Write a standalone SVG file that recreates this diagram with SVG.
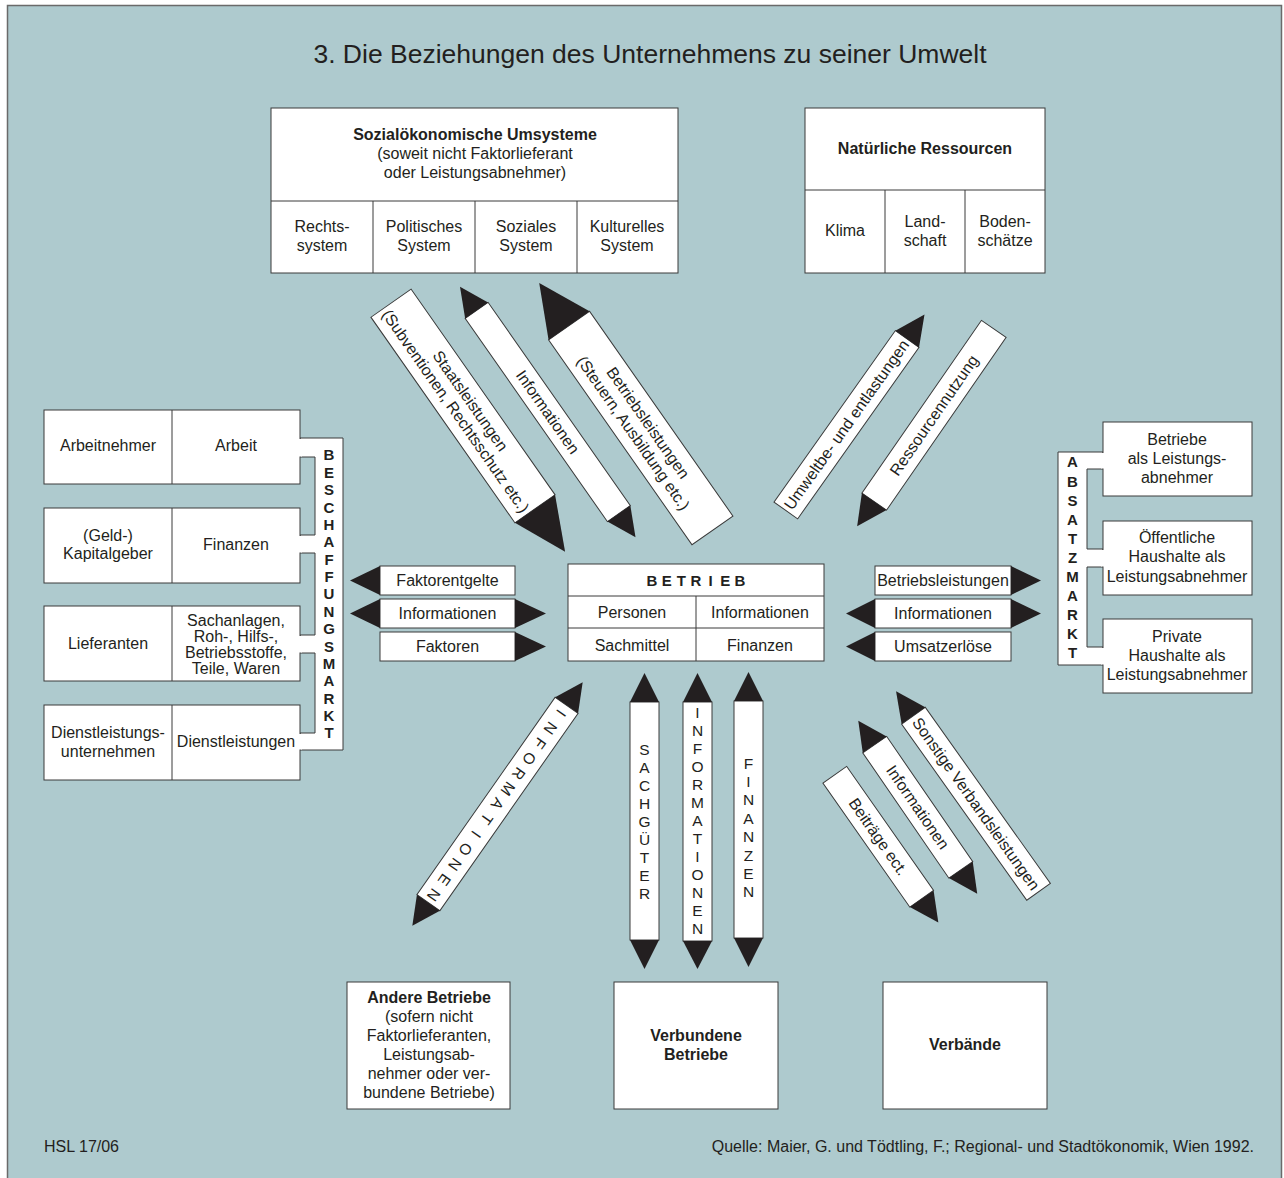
<svg xmlns="http://www.w3.org/2000/svg" width="1284" height="1178" viewBox="0 0 1284 1178">
<style>
text{font-family:"Liberation Sans",Arial,Helvetica,sans-serif;fill:#231f20}
.t{font-size:16px;text-anchor:middle}
.b{font-weight:bold}
.l{font-size:15.5px;text-anchor:middle}
.box{fill:#fff;stroke:#3a3a3a;stroke-width:1}
.ln{stroke:#3a3a3a;stroke-width:1;fill:none}
.hd{fill:#231f20}
</style>
<rect x="0" y="0" width="1284" height="1178" fill="#fff"/>
<rect x="7.5" y="5.5" width="1274" height="1180" fill="#aecace" stroke="#6a6a6a" stroke-width="1.5"/>
<text x="650" y="63" style="font-size:26.5px;text-anchor:middle">3. Die Beziehungen des Unternehmens zu seiner Umwelt</text>

<g id="sozial">
<rect class="box" x="271" y="108" width="407" height="165"/>
<path class="ln" d="M271,201H678M373,201V273M475,201V273M577,201V273"/>
<text class="t b" x="475" y="139.5">Sozialökonomische Umsysteme</text>
<text class="t" x="475" y="158.5">(soweit nicht Faktorlieferant</text>
<text class="t" x="475" y="177.5">oder Leistungsabnehmer)</text>
<text class="t" x="322" y="231.5">Rechts-</text><text class="t" x="322" y="250.5">system</text>
<text class="t" x="424" y="231.5">Politisches</text><text class="t" x="424" y="250.5">System</text>
<text class="t" x="526" y="231.5">Soziales</text><text class="t" x="526" y="250.5">System</text>
<text class="t" x="627" y="231.5">Kulturelles</text><text class="t" x="627" y="250.5">System</text>
</g>

<g id="natur">
<rect class="box" x="805" y="108" width="240" height="165"/>
<path class="ln" d="M805,190H1045M885,190V273M965,190V273"/>
<text class="t b" x="925" y="153.5">Natürliche Ressourcen</text>
<text class="t" x="845" y="235.5">Klima</text>
<text class="t" x="925" y="226.5">Land-</text><text class="t" x="925" y="245.5">schaft</text>
<text class="t" x="1005" y="226.5">Boden-</text><text class="t" x="1005" y="245.5">schätze</text>
</g>

<g id="beschaffungsmarkt">
<path class="box" d="M300,438H343V750H300V733H315V653H300V635H315V553H300V535H315V457H300Z"/>
<text class="b" style="font-size:15px;text-anchor:middle" x="329 329 329 329 329 329 329 329 329 329 329 329 329 329 329 329 329" y="460.4 477.8 495.2 512.5 529.9 547.3 564.7 582 599.4 616.8 634.2 651.5 668.9 686.3 703.7 721 738.4">BESCHAFFUNGSMARKT</text>
</g>

<g id="arbeit">
<rect class="box" x="44" y="410" width="256" height="74"/><path class="ln" d="M172,410V484"/>
<text class="t" x="108" y="450.5">Arbeitnehmer</text><text class="t" x="236" y="450.5">Arbeit</text>
</g>
<g id="finanzen">
<rect class="box" x="44" y="508" width="256" height="75"/><path class="ln" d="M172,508V583"/>
<text class="t" x="108" y="540.5">(Geld-)</text><text class="t" x="108" y="558.5">Kapitalgeber</text>
<text class="t" x="236" y="549.5">Finanzen</text>
</g>
<g id="lieferanten">
<rect class="box" x="44" y="606" width="256" height="75"/><path class="ln" d="M172,606V681"/>
<text class="t" x="108" y="648.5">Lieferanten</text>
<text class="t" x="236" y="625.5">Sachanlagen,</text><text class="t" x="236" y="641.5">Roh-, Hilfs-,</text>
<text class="t" x="236" y="657.5">Betriebsstoffe,</text><text class="t" x="236" y="673.5">Teile, Waren</text>
</g>
<g id="dienstleistungen">
<rect class="box" x="44" y="705" width="256" height="75"/><path class="ln" d="M172,705V780"/>
<text class="t" x="108" y="737.5">Dienstleistungs-</text><text class="t" x="108" y="756.5">unternehmen</text>
<text class="t" x="236" y="746.5">Dienstleistungen</text>
</g>
<g fill="#fff">
<rect x="299" y="439" width="3" height="17.5"/><rect x="299" y="536" width="3" height="16.5"/>
<rect x="299" y="636" width="3" height="16.5"/><rect x="299" y="734" width="3" height="15.5"/>
</g>

<g id="absatzmarkt">
<path class="box" d="M1103,452H1058V665H1103V647H1087V567H1103V549H1087V469H1103Z"/>
<text class="b" style="font-size:15px;text-anchor:middle" x="1072.5 1072.5 1072.5 1072.5 1072.5 1072.5 1072.5 1072.5 1072.5 1072.5 1072.5" y="467.4 486.5 505.6 524.7 543.8 562.9 582 601.1 620.2 639.3 658.4">ABSATZMARKT</text>
</g>
<g id="betriebe-abnehmer">
<rect class="box" x="1103" y="422" width="149" height="74"/>
<text class="t" x="1177" y="444.5">Betriebe</text><text class="t" x="1177" y="463.5">als Leistungs-</text><text class="t" x="1177" y="482.5">abnehmer</text>
</g>
<g id="oeffentliche">
<rect class="box" x="1103" y="521" width="149" height="74"/>
<text class="t" x="1177" y="542.5">Öffentliche</text><text class="t" x="1177" y="561.5">Haushalte als</text><text class="t" x="1177" y="581.5">Leistungsabnehmer</text>
</g>
<g id="private">
<rect class="box" x="1103" y="619" width="149" height="74"/>
<text class="t" x="1177" y="641.5">Private</text><text class="t" x="1177" y="660.5">Haushalte als</text><text class="t" x="1177" y="679.5">Leistungsabnehmer</text>
</g>
<g fill="#fff">
<rect x="1101" y="453" width="3" height="15.5"/><rect x="1101" y="550" width="3" height="16.5"/><rect x="1101" y="648" width="3" height="16.5"/>
</g>

<g id="betrieb">
<rect class="box" x="568" y="564" width="256" height="97"/>
<path class="ln" d="M568,596H824M568,628H824M696,596V661"/>
<text class="b" style="font-size:15px;text-anchor:middle" x="652 666.7 681.3 696 710.7 725.3 740" y="585.5">BETRIEB</text>
<text class="t" x="632" y="617.5">Personen</text><text class="t" x="760" y="617.5">Informationen</text>
<text class="t" x="632" y="650.5">Sachmittel</text><text class="t" x="760" y="650.5">Finanzen</text>
</g>

<g id="andere-betriebe">
<rect class="box" x="347" y="982" width="163" height="127"/>
<text class="t b" x="429" y="1002.5">Andere Betriebe</text>
<text class="t" x="429" y="1021.5">(sofern nicht</text>
<text class="t" x="429" y="1040.5">Faktorlieferanten,</text>
<text class="t" x="429" y="1059.5">Leistungsab-</text>
<text class="t" x="429" y="1078.5">nehmer oder ver-</text>
<text class="t" x="429" y="1097.5">bundene Betriebe)</text>
</g>
<g id="verbundene">
<rect class="box" x="614" y="982" width="164" height="127"/>
<text class="t b" x="696" y="1040.5">Verbundene</text><text class="t b" x="696" y="1059.5">Betriebe</text>
</g>
<g id="verbaende">
<rect class="box" x="883" y="982" width="164" height="127"/>
<text class="t b" x="965" y="1049.5">Verbände</text>
</g>

<g id="connectors">
<!-- horizontal left -->
<rect class="box" x="380" y="566" width="135" height="29"/><polygon class="hd" points="380,566 350,580.5 380,595"/>
<text class="t" x="447.5" y="585.5">Faktorentgelte</text>
<rect class="box" x="380" y="599" width="135" height="29"/><polygon class="hd" points="380,599 350,613.5 380,628"/><polygon class="hd" points="515,599 546,613.5 515,628"/>
<text class="t" x="447.5" y="618.5">Informationen</text>
<rect class="box" x="380" y="632" width="135" height="29"/><polygon class="hd" points="515,632 546,646.5 515,661"/>
<text class="t" x="447.5" y="651.5">Faktoren</text>
<!-- horizontal right -->
<rect class="box" x="875" y="566" width="136" height="29"/><polygon class="hd" points="1011,566 1041,580.5 1011,595"/>
<text class="t" x="943" y="585.5">Betriebsleistungen</text>
<rect class="box" x="875" y="599" width="136" height="29"/><polygon class="hd" points="875,599 846,613.5 875,628"/><polygon class="hd" points="1011,599 1041,613.5 1011,628"/>
<text class="t" x="943" y="618.5">Informationen</text>
<rect class="box" x="875" y="632" width="136" height="29"/><polygon class="hd" points="875,632 846,646.5 875,661"/>
<text class="t" x="943" y="651.5">Umsatzerlöse</text>

<!-- top-left diagonals -->
<g transform="translate(463,406) rotate(55)">
<rect class="box" x="-125.5" y="-24.5" width="251" height="49"/><polygon class="hd" points="125.5,-24.5 178,0 125.5,24.5"/>
<text class="t" x="0" y="-3.5">Staatsleistungen</text><text class="t" x="0" y="14.5">(Subventionen, Rechtsschutz etc.)</text>
</g>
<g transform="translate(547.75,412) rotate(55)">
<rect class="box" x="-124" y="-14" width="248" height="28"/><polygon class="hd" points="124,-14 153,0 124,14"/><polygon class="hd" points="-124,-14 -153,0 -124,14"/>
<text class="t" x="0" y="5.5">Informationen</text>
</g>
<g transform="translate(640.75,428) rotate(55)">
<rect class="box" x="-125" y="-25" width="250" height="50"/><polygon class="hd" points="-125,-25 -177,0 -125,25"/>
<text class="t" x="0" y="-3.5">Betriebsleistungen</text><text class="t" x="0" y="14.5">(Steuern, Ausbildung etc.)</text>
</g>
<!-- top-right diagonals -->
<g transform="translate(846.5,424.75) rotate(-54.7)">
<rect class="box" x="-105" y="-14.5" width="210" height="29"/><polygon class="hd" points="105,-14.5 135,0 105,14.5"/>
<text class="t" x="0" y="5.5">Umweltbe- und entlastungen</text>
</g>
<g transform="translate(934,415.25) rotate(-55.3)">
<rect class="box" x="-105" y="-15" width="210" height="30"/><polygon class="hd" points="-105,-15 -135,0 -105,15"/>
<text class="t" x="0" y="5.5">Ressourcennutzung</text>
</g>
<!-- bottom-left diagonal -->
<g transform="translate(497.5,804) rotate(125)">
<rect class="box" x="-120.5" y="-14" width="241" height="28"/><polygon class="hd" points="120.5,-14 148.5,0 120.5,14"/><polygon class="hd" points="-120.5,-14 -148.5,0 -120.5,14"/>
<text class="l" x="-111 -92.5 -74 -55.5 -37 -18.5 0 18.5 37 55.5 74 92.5 111" y="5.5">INFORMATIONEN</text>
</g>
<!-- vertical -->
<rect class="box" x="630" y="702" width="29" height="238"/><polygon class="hd" points="630,702 644.5,673 659,702"/><polygon class="hd" points="630,940 644.5,969 659,940"/>
<text class="l" x="644.5 644.5 644.5 644.5 644.5 644.5 644.5 644.5 644.5" y="754.5 772.6 790.7 808.8 826.9 845 863.1 881.2 899.3">SACHGÜTER</text>
<rect class="box" x="683" y="702" width="29" height="239"/><polygon class="hd" points="683,702 697.5,673 712,702"/><polygon class="hd" points="683,941 697.5,969 712,941"/>
<text class="l" x="697.5 697.5 697.5 697.5 697.5 697.5 697.5 697.5 697.5 697.5 697.5 697.5 697.5" y="717.5 735.5 753.5 771.5 789.5 807.5 825.5 843.5 861.5 879.5 897.5 915.5 933.5">INFORMATIONEN</text>
<rect class="box" x="734" y="701" width="29" height="237"/><polygon class="hd" points="734,701 748.5,672 763,701"/><polygon class="hd" points="734,938 748.5,967 763,938"/>
<text class="l" x="748.5 748.5 748.5 748.5 748.5 748.5 748.5 748.5" y="768.5 786.9 805.3 823.7 842.1 860.5 878.9 897.3">FINANZEN</text>
<!-- bottom-right diagonals -->
<g transform="translate(878.25,836.75) rotate(55)">
<rect class="box" x="-75.75" y="-14.5" width="151.5" height="29"/><polygon class="hd" points="75.75,-14.5 104.75,0 75.75,14.5"/>
<text class="t" x="0" y="5.5">Beiträge ect.</text>
</g>
<g transform="translate(917.75,807.25) rotate(55.5)">
<rect class="box" x="-76" y="-14.5" width="152" height="29"/><polygon class="hd" points="76,-14.5 105,0 76,14.5"/><polygon class="hd" points="-76,-14.5 -105,0 -76,14.5"/>
<text class="t" x="0" y="5.5">Informationen</text>
</g>
<g transform="translate(976,803.75) rotate(54.6)">
<rect class="box" x="-108" y="-14.5" width="216" height="29"/><polygon class="hd" points="-108,-14.5 -138,0 -108,14.5"/>
<text class="t" x="0" y="5.5">Sonstige Verbandsleistungen</text>
</g>
</g>

<text x="44" y="1151.5" style="font-size:16px">HSL 17/06</text>
<text x="1254" y="1151.5" style="font-size:16px;text-anchor:end">Quelle: Maier, G. und Tödtling, F.; Regional- und Stadtökonomik, Wien 1992.</text>
</svg>
